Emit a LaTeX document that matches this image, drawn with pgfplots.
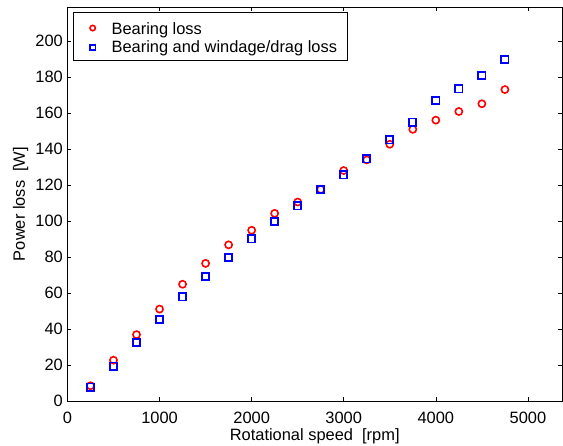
\documentclass[border=0pt]{standalone}
\usepackage{fontspec}
\setmainfont{Liberation Sans}
\usepackage{pgfplots}
\pgfplotsset{compat=1.18}

\begin{document}
\newcommand{\mfont}{\fontsize{16.5}{19}\selectfont}
\mfont
\begin{tikzpicture}
\begin{axis}[
  scale only axis,
  width=497pt, height=396pt,
  xmin=0, xmax=5370,
  ymin=0, ymax=219,
  xtick={0,1000,...,5000},
  ytick={0,20,...,200},
  tick align=inside,
  major tick length=4pt,
  tick style={black, line width=0.6pt},
  axis line style={black, line width=0.8pt},
  /pgf/number format/assume math mode=true,
  /pgf/number format/1000 sep={},
  ticklabel style={font=\mfont},
  xticklabel style={yshift=-5pt},
  yticklabel style={xshift=1pt},
  xlabel={Rotational speed\ \ [rpm]},
  ylabel={Power loss\ \ [W]},
  label style={font=\mfont},
  xlabel style={yshift=6pt},
  ylabel style={yshift=-4pt},
  legend style={at={(axis description cs:0.012,0.986)}, anchor=north west,
    draw=black, line width=0.8pt, font=\mfont,
    inner xsep=8pt, inner ysep=4pt, row sep=-1pt, cells={anchor=west}},
  legend cell align=left,
]
\addplot[only marks, mark=o, mark size=3.6pt, draw=red, line width=1.6pt,
  legend image code/.code={%
    \path[draw=none] (0pt,0pt) -- (28pt,0pt);
    \draw[red, line width=1.6pt, fill=none] (11pt,0pt) circle (2.7pt);}]
  coordinates {
  (250,8.5) (500,22.7) (750,36.9) (1000,51.1) (1250,64.9) (1500,76.5)
  (1750,86.8) (2000,94.9) (2250,104.3) (2500,110.6) (2750,117.6)
  (3000,128.1) (3250,134.0) (3500,142.7) (3750,151.0) (4000,156.1)
  (4250,160.9) (4500,165.2) (4750,173.1)
  };
\addlegendentry{\rule{0pt}{16pt}Bearing loss}
\addplot[only marks, mark=square, mark size=3.6pt, draw=blue, line width=1.8pt,
  legend image code/.code={%
    \path[draw=none] (0pt,0pt) -- (28pt,0pt);
    \draw[blue, line width=1.7pt, fill=none] (8.3pt,-2.7pt) rectangle (13.7pt,2.7pt);}]
  coordinates {
  (250,7.7) (500,19.4) (750,32.6) (1000,45.3) (1250,57.9) (1500,69.1)
  (1750,79.8) (2000,90.1) (2250,99.7) (2500,108.4) (2750,117.6)
  (3000,125.7) (3250,134.6) (3500,145.1) (3750,155.0) (4000,167.0)
  (4250,173.5) (4500,180.8) (4750,189.9)
  };
\addlegendentry{Bearing and windage/drag loss}
\end{axis}
\pgfresetboundingbox
\useasboundingbox ([xshift=-65pt,yshift=-45pt]current axis.south west)
  rectangle ([xshift=1pt,yshift=7pt]current axis.north east);
\end{tikzpicture}
\end{document}
